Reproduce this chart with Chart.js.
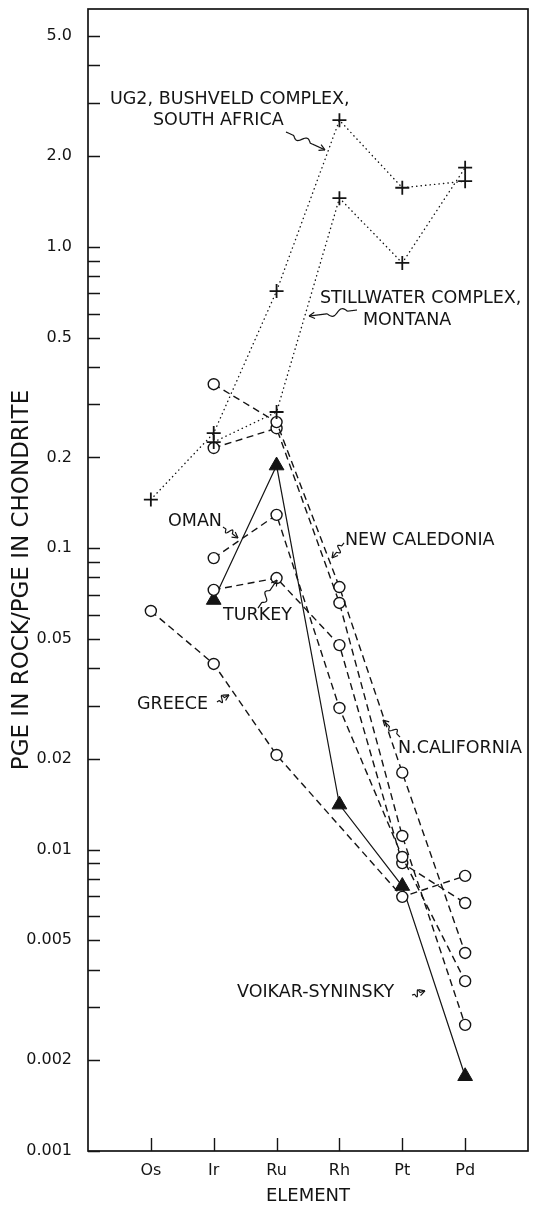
<!DOCTYPE html>
<html>
<head>
<meta charset="utf-8">
<script src="https://cdn.jsdelivr.net/npm/chart.js@4/dist/chart.umd.min.js"></script>
<style>
  html, body { margin: 0; padding: 0; background: #fff; }
  #wrap { width: 534px; height: 1207px; position: relative; }
  canvas { display: block; }
</style>
</head>
<body>
<div id="wrap"><canvas id="c" width="534" height="1207"></canvas></div>
<script>
// ---- categories ----
const elements = ['Os', 'Ir', 'Ru', 'Rh', 'Pt', 'Pd'];

// ---- series values (PGE in rock / PGE in chondrite), null = not shown ----
const ug2Bushveld    = [0.145, 0.241, 0.713, 2.63, 1.57, 1.65];
const stillwater     = [null, 0.225, 0.283, 1.45, 0.884, 1.83];
const nCalifornia    = [null, 0.35, 0.262, 0.0743, 0.018, 0.00454];
const newCaledonia   = [null, 0.215, 0.25, 0.0658, 0.0111, 0.00262];
const oman           = [null, 0.0927, 0.129, 0.0295, 0.00945, 0.00366];
const turkey         = [null, 0.0727, 0.0796, 0.0477, 0.00902, 0.00665];
const greece         = [0.0619, 0.0413, 0.0206, null, 0.00697, 0.00818];
const voikarSyninsky = [null, 0.0673, 0.188, 0.0141, 0.00757, 0.00177];

// ---- tick labels ----
const yLabelValues = [5, 2, 1, 0.5, 0.2, 0.1, 0.05, 0.02, 0.01, 0.005, 0.002, 0.001];
const yTickLabels  = ['5.0', '2.0', '1.0', '0.5', '0.2', '0.1', '0.05', '0.02', '0.01', '0.005', '0.002', '0.001'];
const yTickMantissas = [1, 2, 3, 4, 5, 6, 7, 8, 9];
const yTickDecades = [0.001, 0.01, 0.1, 1];
const yMin = 0.001, yMax = 6.15;

// ---- annotation texts (anchored in data units) ----
const noteTexts = [
  { text: 'UG2, BUSHVELD COMPLEX,', x: -0.650, y: 3.07 },
  { text: 'SOUTH AFRICA',           x: 0.034,  y: 2.615 },
  { text: 'STILLWATER COMPLEX,',    x: 2.691,  y: 0.676 },
  { text: 'MONTANA',                x: 3.375,  y: 0.5715 },
  { text: 'OMAN',                   x: 0.273,  y: 0.1231 },
  { text: 'NEW CALEDONIA',          x: 3.089,  y: 0.1057 },
  { text: 'TURKEY',                 x: 1.148,  y: 0.0596 },
  { text: 'GREECE',                 x: -0.220, y: 0.0302 },
  { text: 'N.CALIFORNIA',           x: 3.932,  y: 0.0217 },
  { text: 'VOIKAR-SYNINSKY',        x: 1.370,  y: 0.00337 }
];
const noteArrows = [
  { from: [2.150, 2.404],  to: [2.770, 2.096] },
  { from: [3.280, 0.617],  to: [2.516, 0.589] },
  { from: [1.148, 0.1176], to: [1.386, 0.1081] },
  { from: [3.073, 0.1041], to: [2.882, 0.0928] },
  { from: [1.705, 0.0633], to: [2.007, 0.0784] },
  { from: [1.052, 0.0309], to: [1.243, 0.0326] },
  { from: [3.964, 0.02363], to: [3.693, 0.0269] },
  { from: [4.155, 0.00329], to: [4.361, 0.0034] }
];

const INK = '#141414';
const FONT = 'DejaVu Sans';

function toPoints(arr) {
  const out = [];
  arr.forEach((v, i) => { if (v !== null) out.push({ x: i, y: v }); });
  return out;
}

const yTickValues = [];
yTickDecades.forEach(d => yTickMantissas.forEach(m => {
  const v = +(m * d).toPrecision(6);
  if (v >= yMin && v <= 5) yTickValues.push(v);
}));

function crossSet(label, arr) {
  return {
    label, data: toPoints(arr),
    borderColor: INK, borderWidth: 1.4, borderDash: [0.3, 4.2], borderCapStyle: 'round',
    pointStyle: 'cross', pointRadius: 7, pointBorderWidth: 1.8,
    pointBorderColor: INK, pointBackgroundColor: INK, tension: 0
  };
}
function circleSet(label, arr) {
  return {
    label, data: toPoints(arr),
    borderColor: INK, borderWidth: 1.4, borderDash: [7, 4.5],
    pointStyle: 'circle', pointRadius: 5.5, pointBorderWidth: 1.4,
    pointBorderColor: INK, pointBackgroundColor: '#fff', tension: 0
  };
}

const datasets = [
  crossSet('UG2, Bushveld Complex, South Africa', ug2Bushveld),
  crossSet('Stillwater Complex, Montana', stillwater),
  circleSet('N. California', nCalifornia),
  circleSet('New Caledonia', newCaledonia),
  circleSet('Oman', oman),
  circleSet('Turkey', turkey),
  circleSet('Greece', greece),
  {
    label: 'Voikar-Syninsky', data: toPoints(voikarSyninsky),
    borderColor: INK, borderWidth: 1.2,
    pointStyle: 'triangle', pointRadius: 8.5, pointBorderWidth: 1,
    pointBorderColor: INK, pointBackgroundColor: INK, tension: 0
  }
];

const frameAndTicks = {
  id: 'frameAndTicks',
  beforeDatasetsDraw(chart) {
    const { ctx, chartArea: a, scales: { x, y } } = chart;
    ctx.save();
    ctx.strokeStyle = INK;
    ctx.lineWidth = 1.7;
    ctx.strokeRect(a.left, a.top, a.right - a.left, a.bottom - a.top);
    ctx.lineWidth = 1.4;
    ctx.beginPath();
    y.ticks.forEach(t => {
      const py = Math.round(y.getPixelForValue(t.value)) + 0.5;
      ctx.moveTo(a.left, py); ctx.lineTo(a.left + 12, py);
    });
    x.ticks.forEach(t => {
      const px = Math.round(x.getPixelForValue(t.value)) + 0.5;
      ctx.moveTo(px, a.bottom); ctx.lineTo(px, a.bottom - 13);
    });
    ctx.stroke();
    ctx.restore();
  }
};

function squiggle(ctx, x0, y0, x1, y1) {
  const dx = x1 - x0, dy = y1 - y0, L = Math.hypot(dx, dy);
  const ux = dx / L, uy = dy / L, nx = -uy, ny = ux;
  ctx.beginPath();
  const N = 48;
  for (let i = 0; i <= N; i++) {
    const t = i / N;
    let off = 0;
    if (t > 0.2 && t < 0.62) {
      const s = (t - 0.2) / 0.42;
      off = 3.2 * Math.sin(s * 2 * Math.PI);
    }
    const px = x0 + dx * t + nx * off, py = y0 + dy * t + ny * off;
    if (i === 0) ctx.moveTo(px, py); else ctx.lineTo(px, py);
  }
  ctx.stroke();
  const ah = 6.5, ang = 0.5;
  ctx.beginPath();
  [ang, -ang].forEach(a => {
    const c = Math.cos(a), s = Math.sin(a);
    const bx = ux * c - uy * s, by = uy * c + ux * s;
    ctx.moveTo(x1, y1);
    ctx.lineTo(x1 - ah * bx, y1 - ah * by);
  });
  ctx.stroke();
}

const notes = {
  id: 'notes',
  afterDatasetsDraw(chart) {
    const { ctx, scales: { x, y } } = chart;
    ctx.save();
    ctx.fillStyle = INK;
    ctx.strokeStyle = INK;
    ctx.lineWidth = 1.2;
    ctx.font = '17.5px "' + FONT + '"';
    ctx.textAlign = 'left';
    ctx.textBaseline = 'middle';
    noteTexts.forEach(n => {
      ctx.fillText(n.text, x.getPixelForValue(n.x), y.getPixelForValue(n.y));
    });
    noteArrows.forEach(a => {
      squiggle(ctx,
        x.getPixelForValue(a.from[0]), y.getPixelForValue(a.from[1]),
        x.getPixelForValue(a.to[0]), y.getPixelForValue(a.to[1]));
    });
    ctx.restore();
  }
};

Chart.defaults.font.family = FONT;
Chart.defaults.color = INK;

new Chart(document.getElementById('c'), {
  type: 'line',
  data: { datasets },
  options: {
    responsive: false,
    animation: false,
    devicePixelRatio: 1,
    layout: { autoPadding: false, padding: { top: 9, right: 6, left: 0, bottom: 0 } },
    plugins: { legend: { display: false }, tooltip: { enabled: false } },
    scales: {
      x: {
        type: 'linear', min: -1, max: 6,
        afterBuildTicks: s => { s.ticks = elements.map((_, i) => ({ value: i })); },
        afterFit: s => { s.height = 56; s.paddingLeft = 0; s.paddingRight = 0; },
        grid: { display: false },
        border: { display: false },
        ticks: {
          autoSkip: false, maxRotation: 0, padding: 2,
          font: { size: 16 }, color: INK,
          callback: v => elements[v] ?? ''
        },
        title: {
          display: true, text: 'ELEMENT', color: INK,
          font: { size: 18 }, padding: { top: 0, bottom: 0 }
        }
      },
      y: {
        type: 'logarithmic', min: yMin, max: yMax,
        afterBuildTicks: s => { s.ticks = yTickValues.map(v => ({ value: v })); },
        afterFit: s => { s.width = 88; s.paddingTop = 0; s.paddingBottom = 0; },
        grid: { display: false },
        border: { display: false },
        ticks: {
          autoSkip: false, padding: 8,
          font: { size: 16, lineHeight: 1 }, color: INK,
          callback: v => {
            const i = yLabelValues.findIndex(m => Math.abs(m - v) / m < 1e-6);
            return i >= 0 ? yTickLabels[i] : '';
          }
        },
        title: {
          display: true, text: 'PGE IN ROCK/PGE IN CHONDRITE', color: INK,
          font: { size: 23 }, padding: { top: 8, bottom: 0 }
        }
      }
    }
  },
  plugins: [frameAndTicks, notes]
});
</script>
</body>
</html>
